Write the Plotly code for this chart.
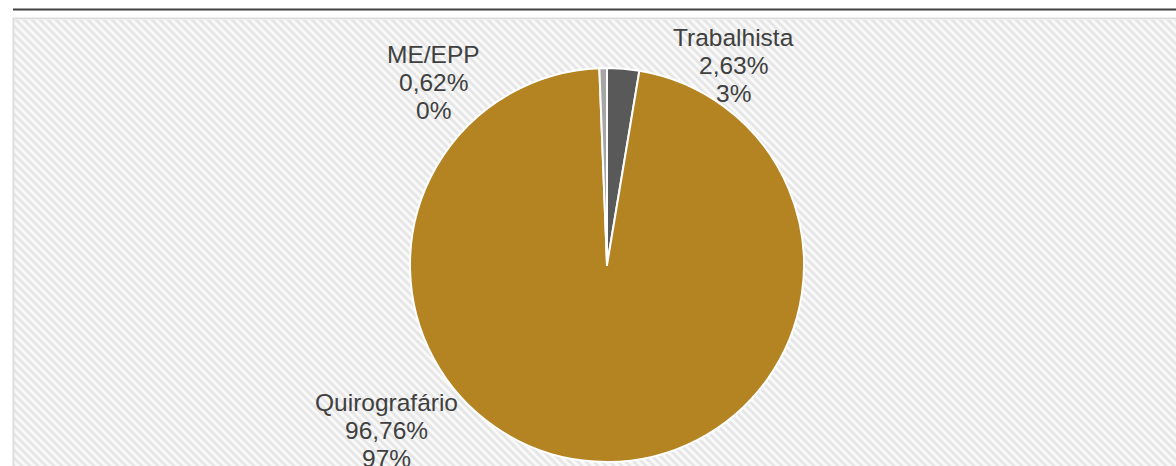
import base64
import plotly.graph_objects as go

# ---- data ----
labels = ["Trabalhista", "Quirografário", "ME/EPP"]
values = [2.63, 96.76, 0.62]
pct_text = ["2,63%", "96,76%", "0,62%"]
pct_rounded = ["3%", "97%", "0%"]
colors = ["#595959", "#B48322", "#A6A6A6"]

# label positions (pixel centre of the middle line)
label_pos = [(733, 66), (386, 430), (433, 83)]

W, H = 1176, 466

fig = go.Figure()
fig.add_trace(go.Pie(
    labels=labels, values=values, sort=False, direction="clockwise", rotation=0,
    marker=dict(colors=colors, line=dict(color="white", width=2)),
    textinfo="none", hoverinfo="label+percent", showlegend=False,
    domain=dict(x=[410 / W, 804 / W], y=[4 / H, 398 / H]),
))

# hatched background as an SVG pattern
bw, bh = W - 14, H - 20
svg = f'''<svg xmlns="http://www.w3.org/2000/svg" width="{bw}" height="{bh}">
<defs><pattern id="p" patternUnits="userSpaceOnUse" width="5.657" height="5.657" patternTransform="rotate(-45)">
<rect width="5.657" height="5.657" fill="#FAFAFA"/><rect width="2.9" height="5.657" fill="#E6E6E6"/></pattern></defs>
<rect width="{bw}" height="{bh}" fill="url(#p)"/></svg>'''
src = "data:image/svg+xml;base64," + base64.b64encode(svg.encode()).decode()

annotations = []
for i, lab in enumerate(labels):
    cx, cy = label_pos[i]
    for j, line in enumerate([lab, pct_text[i], pct_rounded[i]]):
        annotations.append(dict(
            x=cx / W, y=1 - cy / H, xref="paper", yref="paper",
            text=line, showarrow=False, xanchor="center", yanchor="middle",
            yshift=-(j - 1) * 28,
            font=dict(family="Liberation Sans, Arial, sans-serif", size=24.5, color="#404040"),
        ))

fig.update_layout(
    width=W, height=H, margin=dict(l=0, r=0, t=0, b=0),
    paper_bgcolor="white", plot_bgcolor="white",
    images=[dict(source=src, xref="paper", yref="paper", x=14 / W, y=1 - 20 / H,
                 sizex=bw / W, sizey=bh / H, xanchor="left", yanchor="top",
                 sizing="stretch", layer="below")],
    shapes=[
        dict(type="line", xref="paper", yref="paper", x0=13 / W, x1=1, y0=1 - 9.5 / H, y1=1 - 9.5 / H,
             line=dict(color="#404040", width=2)),
        dict(type="rect", xref="paper", yref="paper", x0=13.5 / W, x1=1.01, y0=-0.01, y1=1 - 18.5 / H,
             line=dict(color="#DDDDDD", width=2), layer="below"),
    ],
    annotations=annotations,
)

fig.write_html("out.html", config={"displayModeBar": False},
               post_script="document.body.style.margin='0';document.body.style.overflow='hidden';")
